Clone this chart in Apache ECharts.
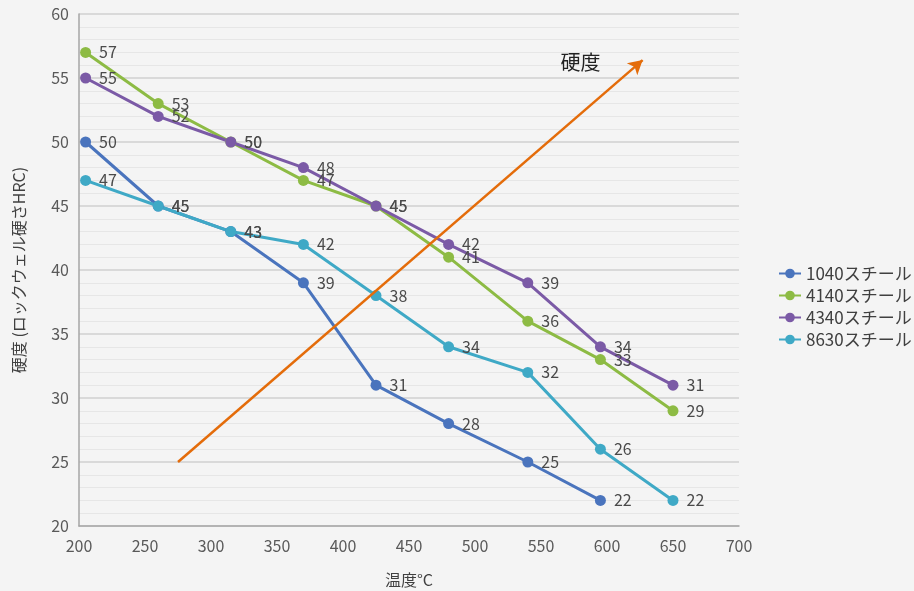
<!DOCTYPE html>
<html>
<head>
<meta charset="utf-8">
<script src="https://cdn.jsdelivr.net/npm/echarts@6/dist/echarts.min.js"></script>
<style>
  html, body { margin: 0; padding: 0; background: #f4f4f4; }
  #chart { width: 914px; height: 591px; }
</style>
</head>
<body>
<div id="chart"></div>
<script>
const FONT = 'Noto Sans CJK JP';

// temper temperatures (°C)
const temps = [205, 260, 315, 370, 425, 480, 540, 595, 650];
const names = ['1040スチール', '4140スチール', '4340スチール', '8630スチール'];
const colors = ['#4a74bd', '#8dbb44', '#7b5aa6', '#3fa9c6'];

const hrc1040 = [50, 45, 43, 39, 31, 28, 25, 22, null];
const hrc4140 = [57, 53, 50, 47, 45, 41, 36, 33, 29];
const hrc4340 = [55, 52, 50, 48, 45, 42, 39, 34, 31];
const hrc8630 = [47, 45, 43, 42, 38, 34, 32, 26, 22];

// annotation arrow, in data units
const arrowFrom = [275, 25];
const arrowTo = [627, 56.4];
const arrowText = '硬度';
const arrowTextAt = [580, 56.2];

const chart = echarts.init(document.getElementById('chart'));

function lineSeries(name, values, color) {
  return {
    name: name,
    type: 'line',
    data: temps.map((t, i) => [t, values[i]]).filter(p => p[1] != null),
    symbol: 'circle',
    symbolSize: 11,
    lineStyle: { width: 3, color: color },
    itemStyle: { color: color },
    label: {
      show: true,
      position: 'right',
      distance: 8,
      color: '#4a4a4a',
      fontSize: 16,
      fontFamily: FONT
    },
    z: 3
  };
}

const series = [
  lineSeries(names[0], hrc1040, colors[0]),
  lineSeries(names[1], hrc4140, colors[1]),
  lineSeries(names[2], hrc4340, colors[2]),
  lineSeries(names[3], hrc8630, colors[3]),
  {
    name: 'arrow',
    type: 'line',
    data: [],
    silent: true,
    markLine: {
      silent: true,
      symbol: ['none', 'arrow'],
      symbolSize: [12, 14],
      label: { show: false },
      lineStyle: { color: '#e46c0a', width: 2.5, type: 'solid' },
      data: [[{ coord: arrowFrom }, { coord: arrowTo }]]
    },
    markPoint: {
      silent: true,
      symbol: 'circle',
      symbolSize: 0,
      label: {
        show: true,
        formatter: arrowText,
        color: '#222',
        fontSize: 20,
        fontFamily: FONT
      },
      data: [{ coord: arrowTextAt }]
    }
  }
];

chart.setOption({
  animation: false,
  backgroundColor: '#f4f4f4',
  textStyle: { fontFamily: FONT },
  grid: { left: 79, right: 175, top: 14, bottom: 65, outerBoundsMode: 'none', containLabel: false },
  legend: {
    data: names,
    orient: 'vertical',
    left: 773,
    top: 260,
    itemGap: 5,
    itemWidth: 22,
    itemHeight: 12,
    textStyle: { color: '#404040', fontSize: 17, lineHeight: 17, fontFamily: FONT }
  },
  xAxis: {
    type: 'value',
    min: 200,
    max: 700,
    interval: 50,
    name: '温度°C',
    nameLocation: 'middle',
    nameGap: 46,
    nameTextStyle: { color: '#404040', fontSize: 16, fontFamily: FONT },
    axisLine: { show: true, lineStyle: { color: '#a6a6a6', width: 1.5 } },
    axisTick: { show: false },
    axisLabel: { color: '#595959', fontSize: 16, margin: 12 },
    splitLine: { show: false }
  },
  yAxis: {
    type: 'value',
    min: 20,
    max: 60,
    interval: 5,
    name: '硬度 (ロックウェル硬さHRC)',
    nameLocation: 'middle',
    nameGap: 52,
    nameTextStyle: { color: '#404040', fontSize: 16, fontFamily: FONT },
    axisLine: { show: true, lineStyle: { color: '#a6a6a6', width: 1.5 } },
    axisTick: { show: false },
    axisLabel: { color: '#595959', fontSize: 16, margin: 10 },
    splitLine: { show: true, lineStyle: { color: '#d9d9d9', width: 2 } },
    minorTick: { show: false, splitNumber: 5 },
    minorSplitLine: { show: true, lineStyle: { color: '#e6e6e6', width: 1 } }
  },
  series: series
});
</script>
</body>
</html>
